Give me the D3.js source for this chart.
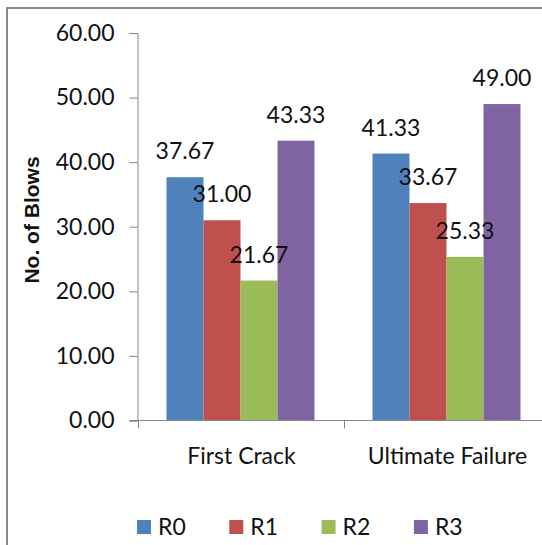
<!DOCTYPE html>
<html>
<head>
<meta charset="utf-8">
<script src="https://cdn.jsdelivr.net/npm/d3@7"></script>
<style>
  body { margin: 0; background: #fff; }
  svg text { font-family: Lato, "Open Sans", sans-serif; fill: #111; }
</style>
</head>
<body>
<div id="chart"></div>
<script>
// Data
var categories = ["First Crack", "Ultimate Failure"]
var seriesNames = ["R0", "R1", "R2", "R3"]
var seriesColors = ["#4F81BD", "#C0504D", "#9BBB59", "#8064A2"]
var firstCrack = [37.67, 31.00, 21.67, 43.33]
var ultimateFailure = [41.33, 33.67, 25.33, 49.00]
var yTicks = [0, 10, 20, 30, 40, 50, 60]

var values = [firstCrack, ultimateFailure]

var width = 542, height = 545
var plot = { left: 137.5, top: 33, bottom: 420.5, bandW: 206 }
var fontSize = 23

var svg = d3.select("#chart").append("svg")
  .attr("width", width)
  .attr("height", height)

// outer frame (cropped on right and bottom)
svg.append("rect")
  .attr("x", 7).attr("y", 8)
  .attr("width", 600).attr("height", 600)
  .attr("fill", "none")
  .attr("stroke", "#8a8a8a")
  .attr("stroke-width", 2)

// Scales
var x0 = d3.scaleBand()
  .domain(categories)
  .range([plot.left, plot.left + plot.bandW * categories.length])

var x1 = d3.scaleBand()
  .domain(seriesNames)
  .range([29, plot.bandW - 29])

var y = d3.scaleLinear()
  .domain([0, 60])
  .range([plot.bottom, plot.top])

// Y axis
var yAxis = svg.append("g")
  .attr("transform", `translate(${plot.left},0)`)
  .call(d3.axisLeft(y).tickValues(yTicks).tickFormat(d3.format(".2f")).tickSize(8).tickPadding(15))
yAxis.selectAll(".domain").attr("stroke", "#868686")
yAxis.selectAll(".tick line").attr("stroke", "#868686")
yAxis.selectAll(".tick text")
  .attr("font-size", fontSize)
  .attr("font-family", null)

// Bars
var groups = svg.append("g").attr("class", "bars")
  .selectAll("g")
  .data(categories)
  .enter().append("g")
  .attr("transform", d => `translate(${x0(d)},0)`)

groups.selectAll("rect")
  .data((c, i) => seriesNames.map((s, j) => ({ s: s, v: values[i][j], color: seriesColors[j] })))
  .enter().append("rect")
  .attr("x", d => x1(d.s))
  .attr("y", d => y(d.v))
  .attr("width", x1.bandwidth())
  .attr("height", d => plot.bottom - y(d.v))
  .attr("fill", d => d.color)

// Data labels
groups.selectAll("text")
  .data((c, i) => seriesNames.map((s, j) => ({ s: s, v: values[i][j] })))
  .enter().append("text")
  .attr("x", d => x1(d.s) + x1.bandwidth() / 2)
  .attr("y", d => y(d.v) - 18)
  .attr("text-anchor", "middle")
  .attr("font-size", fontSize)
  .text(d => d3.format(".2f")(d.v))

// X axis
var xAxis = svg.append("g").attr("class", "x axis")
xAxis.append("line")
  .attr("x1", plot.left - 8).attr("x2", width)
  .attr("y1", plot.bottom).attr("y2", plot.bottom)
  .attr("stroke", "#868686")
xAxis.selectAll(".tickmark")
  .data(categories)
  .enter().append("line")
  .attr("x1", d => Math.round(x0(d)) + 0.5).attr("x2", d => Math.round(x0(d)) + 0.5)
  .attr("y1", plot.bottom).attr("y2", plot.bottom + 8)
  .attr("stroke", "#868686")
xAxis.selectAll("text")
  .data(categories)
  .enter().append("text")
  .attr("x", d => x0(d) + plot.bandW / 2 + 1)
  .attr("y", 464)
  .attr("text-anchor", "middle")
  .attr("font-size", fontSize)
  .text(d => d)

// Y title
svg.append("text")
  .attr("transform", `translate(39,220) rotate(-90)`)
  .attr("text-anchor", "middle")
  .attr("font-size", 21)
  .attr("font-weight", "bold")
  .style("font-family", "'Liberation Sans', Arial, sans-serif")
  .text("No. of Blows")

// Legend
var legend = svg.append("g").attr("class", "legend")
  .selectAll("g")
  .data(seriesNames)
  .enter().append("g")
  .attr("transform", (d, i) => `translate(${137 + i * 92.3},520)`)
legend.append("rect")
  .attr("width", 14).attr("height", 14)
  .attr("fill", (d, i) => seriesColors[i])
legend.append("text")
  .attr("x", 21).attr("y", 15)
  .attr("font-size", fontSize)
  .text(d => d)
</script>
</body>
</html>
